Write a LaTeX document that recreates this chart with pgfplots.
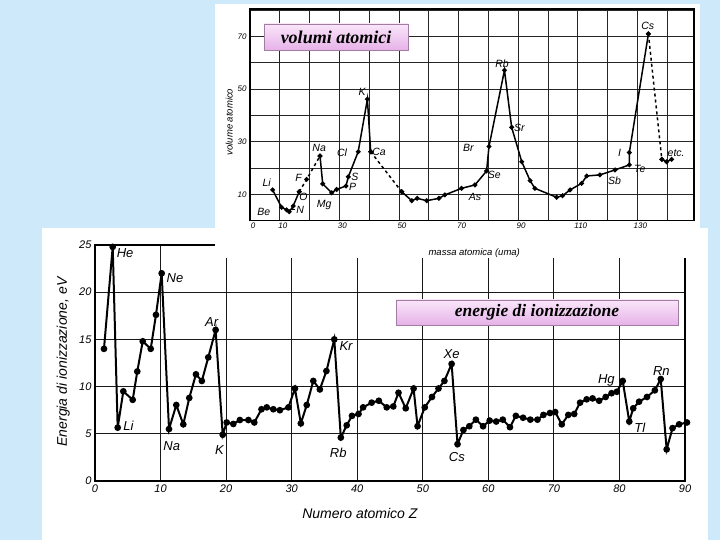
\documentclass[border=0pt]{standalone}
\usepackage{fontspec}
\setmainfont{Liberation Serif}
\setsansfont{Liberation Sans}
\usepackage{pgfplots}
\pgfplotsset{compat=1.18}
\usetikzlibrary{arrows.meta}

\definecolor{bgblue}{RGB}{206,233,249}
\definecolor{pinkhi}{RGB}{250,230,250}
\definecolor{pinklo}{RGB}{230,178,232}

% energia di prima ionizzazione (eV) contro Z
\pgfplotstableread{
z e
1.37 14.0
2.7 24.8
3.46 5.65
4.32 9.5
5.75 8.6
6.45 11.6
7.28 14.8
8.5 14.0
9.3 17.6
10.17 22.0
11.29 5.5
12.4 8.05
13.47 6.0
14.38 8.8
15.4 11.3
16.3 10.6
17.28 13.1
18.4 16.0
19.48 4.9
20.09 6.2
21.1 6.04
22.1 6.46
23.4 6.46
24.3 6.2
25.4 7.6
26.2 7.8
27.2 7.6
28.2 7.5
29.5 7.8
30.5 9.8
31.4 6.1
32.3 8.05
33.3 10.6
34.3 9.7
35.3 11.65
36.5 15.0
37.5 4.6
38.4 5.9
39.2 6.9
40.2 7.1
40.9 7.8
42.2 8.3
43.3 8.5
44.5 7.8
45.5 7.9
46.3 9.35
47.4 7.7
48.6 9.8
49.2 5.8
50.3 7.8
51.4 8.9
52.4 9.8
53.3 10.6
54.4 12.4
55.3 3.9
56.2 5.4
57.1 5.8
58.1 6.5
59.2 5.8
60.2 6.4
61.2 6.3
62.2 6.5
63.3 5.7
64.2 6.9
65.3 6.7
66.4 6.5
67.5 6.5
68.4 7.0
69.4 7.2
70.2 7.3
71.2 6.0
72.2 7.0
73.1 7.1
74.0 8.3
75.0 8.65
75.9 8.75
76.9 8.5
77.9 8.9
78.8 9.3
79.6 9.45
80.5 10.6
81.5 6.3
82.1 7.7
83.0 8.4
84.2 8.9
85.4 9.6
86.3 10.8
87.2 3.35
88.1 5.6
89.1 6.0
90.3 6.2
}\ionizz

\tikzset{
  labZ/.style={font=\sffamily\itshape\fontsize{13}{13}\selectfont},
  labM/.style={font=\sffamily\itshape\fontsize{10.5}{11}\selectfont},
}

\begin{document}
\begin{tikzpicture}[x=1pt,y=1pt]
\path[use as bounding box, fill=bgblue] (0,0) rectangle (720,540);

% foglio inferiore
\fill[white] (42,0) rectangle (708,312);

\begin{axis}[
  at={(95pt,59pt)}, anchor=south west,
  scale only axis, width=590pt, height=236pt,
  xmin=0, xmax=90, ymin=0, ymax=25,
  xtick={0,10,...,90}, ytick={0,5,...,25},
  grid=major,
  major grid style={black!90, line width=1pt},
  axis line style={black, line width=1.6pt},
  tick style={draw=none},
  /pgf/number format/assume math mode=true,
  ticklabel style={font=\sffamily\itshape\fontsize{11}{12}\selectfont},
  xlabel={Numero atomico Z},
  ylabel={Energia di ionizzazione, eV},
  label style={font=\sffamily\itshape\fontsize{14}{15}\selectfont},
  xlabel style={at={(axis description cs:0.449,-0.136)}, anchor=center},
  ylabel style={at={(axis description cs:-0.054,0.504)}, anchor=center},
  clip=false,
]
\addplot[black, line width=2pt, mark=*, mark size=2.3pt, mark options={fill=black}]
  table[x=z, y=e] {\ionizz};
\node[labZ] at (axis cs:4.6,24.1) {He};
\node[labZ] at (axis cs:12.2,21.5) {Ne};
\node[labZ] at (axis cs:17.8,16.8) {Ar};
\node[labZ] at (axis cs:5.1,5.9) {Li};
\node[labZ] at (axis cs:11.7,3.7) {Na};
\node[labZ] at (axis cs:19.0,3.3) {K};
\node[labZ] at (axis cs:38.3,14.3) {Kr};
\node[labZ] at (axis cs:37.1,3.0) {Rb};
\node[labZ] at (axis cs:54.4,13.4) {Xe};
\node[labZ] at (axis cs:55.2,2.5) {Cs};
\node[labZ] at (axis cs:78.0,10.7) {Hg};
\node[labZ] at (axis cs:86.4,11.6) {Rn};
\node[labZ] at (axis cs:83.1,5.6) {Tl};
\end{axis}

% foglio superiore
\fill[white] (215,282) rectangle (700,536);

\begin{axis}[
  at={(250pt,319.3pt)}, anchor=south west,
  scale only axis, width=444pt, height=211.8pt,
  xmin=0, xmax=149, ymin=0, ymax=80.5,
  xtick={0,10,...,140}, xticklabels={0,10,,30,,50,,70,,90,,110,,130,},
  ytick={0,10,...,80}, yticklabels={,10,,30,,50,,70,},
  grid=major,
  major grid style={black!85, line width=0.9pt},
  axis line style={black, line width=1.3pt},
  tick style={draw=none},
  /pgf/number format/assume math mode=true,
  ticklabel style={font=\sffamily\itshape\fontsize{8}{9}\selectfont},
  xticklabel style={xshift=3pt, yshift=1pt},
  xlabel={massa atomica (uma)},
  ylabel={volume atomico},
  label style={font=\sffamily\itshape\fontsize{9.5}{10}\selectfont},
  xlabel style={at={(axis description cs:0.505,-0.152)}, anchor=center},
  ylabel style={at={(axis description cs:-0.047,0.466)}, anchor=center},
  clip=false,
]
\pgfplotsset{vol/.style={black, line width=1.5pt, mark=*, mark size=1.6pt, mark options={fill=black, solid}}}
\addplot[vol] coordinates {(7.6,11.7) (10.6,5.1) (12.3,4.1) (13.2,3.4) (14.5,5.6) (16.5,11.0)};
\addplot[vol, dashed] coordinates {(16.5,11.0) (19.0,15.7) (23.5,24.6)};
\addplot[vol] coordinates {(23.5,24.6) (24.4,14.0) (27.4,10.6) (29.1,11.9) (32.2,13.2) (33.0,16.7) (36.3,26.2) (39.4,46.2) (40.5,26.2)};
\addplot[vol, dashed] coordinates {(40.5,26.2) (50.9,11.0)};
\addplot[vol] coordinates {(50.9,11.0) (54.3,7.6) (56.1,8.5) (59.3,7.6) (63.4,8.5) (65.4,9.8) (71.0,12.3) (75.5,13.6) (79.4,18.9) (80.2,28.2) (85.4,57.2) (87.8,35.5) (91.2,22.4) (94.0,15.2) (95.6,12.3) (102.9,8.9) (104.9,9.5) (107.4,11.7) (111.3,14.2) (113.0,17.0) (117.4,17.4) (122.5,19.3) (127.3,21.2) (127.3,25.9) (133.7,71.0)};
\addplot[vol, dashed] coordinates {(133.7,71.0) (138.2,23.3)};
\addplot[vol] coordinates {(138.2,23.3) (139.8,22.4) (141.5,23.3)};
\node[labM] at (axis cs:5.6,14.4) {Li};
\node[labM] at (axis cs:4.6,3.4) {Be};
\node[labM] at (axis cs:16.8,4.2) {N};
\draw[black, line width=0.8pt, -{Latex[length=3pt]}] (axis cs:15.2,4.4) -- (axis cs:13.4,4.4);
\node[labM] at (axis cs:17.9,9.1) {O};
\node[labM] at (axis cs:16.3,16.3) {F};
\node[labM] at (axis cs:23.2,27.6) {Na};
\node[labM] at (axis cs:24.9,6.0) {Mg};
\node[labM] at (axis cs:30.9,25.9) {Cl};
\node[labM] at (axis cs:35.2,16.7) {S};
\node[labM] at (axis cs:34.4,12.7) {P};
\node[labM] at (axis cs:43.3,26.2) {Ca};
\node[labM] at (axis cs:37.6,48.9) {K};
\node[labM] at (axis cs:73.3,27.8) {Br};
\node[labM] at (axis cs:82.0,17.6) {Se};
\node[labM] at (axis cs:75.5,9.2) {As};
\node[labM] at (axis cs:84.6,59.6) {Rb};
\node[labM] at (axis cs:90.4,35.1) {Sr};
\node[labM] at (axis cs:122.3,15.0) {Sb};
\node[labM] at (axis cs:130.8,19.5) {Te};
\node[labM] at (axis cs:124.0,25.9) {I};
\node[labM] at (axis cs:133.5,74.1) {Cs};
\node[labM] at (axis cs:143.0,25.6) {etc.};
\end{axis}

% etichette rosa
\shade[top color=pinkhi, bottom color=pinklo, draw=pinklo!70!black, line width=0.4pt]
  (264,490) rectangle (408,516);
\node[font=\bfseries\itshape\fontsize{18}{18}\selectfont] at (336,503) {volumi atomici};
\shade[top color=pinkhi, bottom color=pinklo, draw=pinklo!70!black, line width=0.4pt]
  (396,215) rectangle (678,240);
\node[font=\bfseries\itshape\fontsize{17.5}{18}\selectfont] at (537,227.5) {energie di ionizzazione};
\end{tikzpicture}
\end{document}
